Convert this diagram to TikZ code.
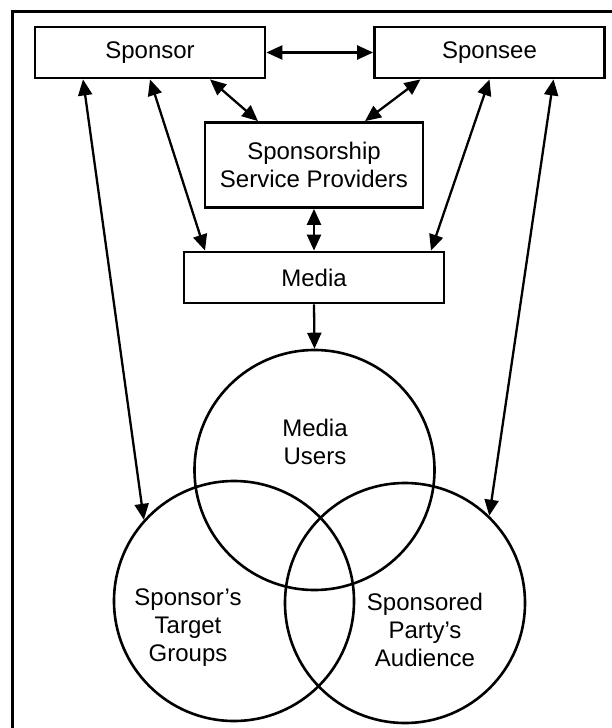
\documentclass[tikz,border=0pt]{standalone}
\usepackage{fontspec}
\setmainfont{Liberation Sans}
\usetikzlibrary{calc}
\usetikzlibrary{arrows.meta}
\usetikzlibrary{positioning}

\begin{document}
\begin{tikzpicture}[x=1pt, y=-1pt,
        box/.style={draw, line width=2.8pt, minimum width=230pt, minimum height=51pt, inner sep=0pt,
                    align=center, font=\fontsize{24}{28}\selectfont},
        ring/.style={draw, circle, line width=2.6pt, minimum size=240pt, inner sep=0pt},
        lbl/.style={align=center, font=\fontsize{24}{28}\selectfont},
        link/.style={line width=2.3pt, {Triangle[length=16pt,width=14pt]}-{Triangle[length=16pt,width=14pt]}},
        feed/.style={line width=2.3pt, -{Triangle[length=16pt,width=14pt]}}]
            \useasboundingbox                                                 (0, 0) rectangle (612, 728);
            % Frame
            \draw[line width=2.2pt]                                           (612, 11.5) -- (12.5, 11.5) -- (12.5, 728);
            % Parties
            \node[box]                                        (sponsor)  at (150.0,  52.5) {Sponsor};
            \node[box]                                        (sponsee)  at (489.5,  52.5) {Sponsee};
            \node[box, minimum width=218pt, minimum height=85pt] (ssp)   at (314.0, 165.0) {Sponsorship\\Service Providers};
            \node[box, minimum width=260pt]                   (media)    at (314.0, 277.5) {Media};
            % Audiences
            \node[ring]                                       (users)    at (314.5, 470.0) {};
            \node[ring]                                       (target)   at (234.0, 601.0) {};
            \node[ring]                                       (audience) at (405.0, 603.0) {};
            \node[lbl]                                        (usersTxt)    at (315.0, 442.0) {Media\\Users};
            \node[lbl]                                        (targetTxt)   at (188.0, 628.0) {Sponsor’s\\Target\\Groups};
            \node[lbl]                                        (audienceTxt) at (425.0, 630.0) {Sponsored\\Party’s\\Audience};
            % Links between parties
            \draw[link] (sponsor.east)                   -- (sponsee.west);
            \draw[link] ([xshift= 60pt]sponsor.south)    -- ([xshift=-56pt]ssp.north);
            \draw[link] ([xshift=-69pt]sponsee.south)    -- ([xshift= 51pt]ssp.north);
            \draw[link] (sponsor.south)                  -- ([xshift=-109pt]media.north);
            \draw[link] (sponsee.south)                  -- ([xshift= 117pt]media.north);
            \draw[link] (ssp.south)                      -- (media.north);
            % Links to audiences
            \draw[link] ([xshift=-67pt]sponsor.south)    -- (target.138);
            \draw[link] ([xshift= 64pt]sponsee.south)    -- (audience.46);
            \draw[feed] (media.south)                    -- (users.north);
        \end{tikzpicture}
\end{document}
